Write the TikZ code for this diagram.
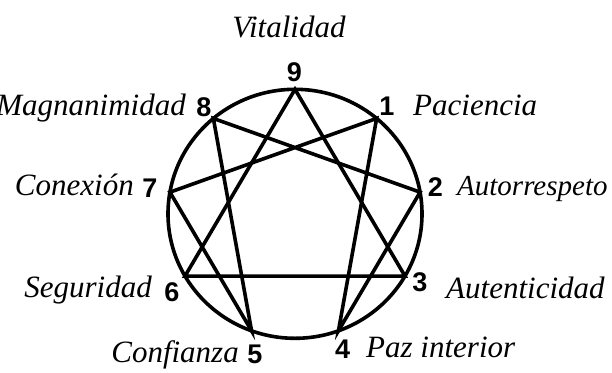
\documentclass[tikz,border=0pt]{standalone}
\usepackage{fontspec}
\setmainfont{Liberation Serif}
\newfontfamily\numfont{Liberation Sans}
\usetikzlibrary{positioning}

\begin{document}
\begin{tikzpicture}[x=1pt, y=-1pt]
    \tikzstyle{word} = [font=\fontsize{31}{33}\selectfont\itshape, inner sep=0pt]
    \tikzstyle{num} = [font=\fontsize{27}{29}\selectfont\numfont\bfseries, inner sep=0pt]
    \tikzstyle{line} = [draw, line width=3.6pt, line join=miter]

    \useasboundingbox (0,0) rectangle (612,372);
    \clip (0,0) rectangle (612,372);

    % circle and the nine points on it
    \draw [line width=3.6pt] (295,213.8) ellipse [x radius=127pt, y radius=124.5pt];
    \foreach \k in {1,...,9} {
        \coordinate (p\k) at ({295+127*cos(90-40*\k)}, {213.8-124.5*sin(90-40*\k)});
    }

    \path [line] (p9) -- (p3) -- (p6) -- cycle;
    \path [line] (p1) -- (p4) -- (p2) -- (p8) -- (p5) -- (p7) -- cycle;

    % numbers
    \node [num] (n9) at (294.5,72.5) {9};
    \node [num] (n1) at (387,106.5) {1};
    \node [num] (n2) at (435.5,187) {2};
    \node [num] (n3) at (420,282) {3};
    \node [num] (n4) at (342.7,349) {4};
    \node [num] (n5) at (255,354) {5};
    \node [num] (n6) at (172,292) {6};
    \node [num] (n7) at (150,188.5) {7};
    \node [num] (n8) at (204,107.5) {8};

    % words
    \node [word, anchor=base] (w9) at (289,37) {Vitalidad};
    \node [word, anchor=base west] (w1) at (413,115) {Paciencia};
    \node [word, anchor=base west, font=\fontsize{29}{31}\selectfont\itshape] (w2) at (457,195) {Autorrespeto};
    \node [word, anchor=base west] (w3) at (446,298) {Autenticidad};
    \node [word, anchor=base west] (w4) at (366,357) {Paz interior};
    \node [word, anchor=base east] (w5) at (239,362) {Confianza};
    \node [word, anchor=base east] (w6) at (152,297) {Seguridad};
    \node [word, anchor=base east] (w7) at (134,195) {Conexión};
    \node [word, anchor=base east] (w8) at (186,115) {Magnanimidad};
\end{tikzpicture}
\end{document}
